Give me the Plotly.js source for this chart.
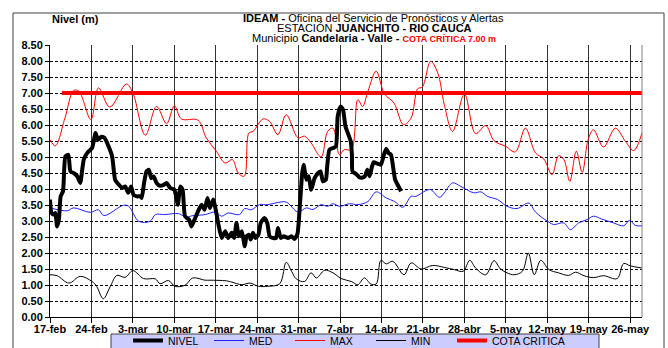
<!DOCTYPE html>
<html><head><meta charset="utf-8">
<script src="https://cdn.plot.ly/plotly-3.0.1.min.js"></script>
<style>html,body{margin:0;padding:0;background:#fff;}#chart{width:668px;height:348px;}</style>
</head><body><div id="chart"></div>
<script>
// x = days since 17-feb
const tickDays = [0,7,14,21,28,35,42,49,56,63,70,77,84,91,98];
const tickLabels = ["17-feb","24-feb","3-mar","10-mar","17-mar","24-mar","31-mar","7-abr","14-abr","21-abr","28-abr","5-may","12-may","19-may","26-may"];

const nivelDay = [0,0.25,0.65,0.9,1.2,1.5,1.8,2.2,2.6,3.1,3.45,4,4.6,5.1,5.7,6.3,7.1,7.7,8.1,8.7,9.2,9.9,10.5,11,11.6,12.2,12.7,13.2,13.7,14.1,14.7,15.3,15.5,15.9,16.3,16.7,17.1,17.5,18,18.6,19.2,19.7,20.3,21,21.6,22,22.4,22.8,23.5,23.9,24.4,25,25.6,26.1,26.6,27,27.6,28,28.4,29,29.6,30.1,30.7,31.1,31.5,31.9,32.4,32.9,33.2,33.6,33.9,34.3,34.7,35.2,35.6,36.2,36.7,37.1,37.7,38.2,38.5,39,39.5,40.2,40.8,41.3,41.8,42.2,42.6,42.85,43.3,43.7,44.1,44.7,45.3,45.7,46.1,46.6,46.8,47.2,47.8,48.3,48.6,49.1,49.5,49.9,50.3,50.8,51.0,51.1,51.7,52.3,52.8,53.2,53.6,54,54.4,54.7,55.2,55.9,56.4,56.8,57.2,57.6,57.9,58.3,58.7,59.3];
const nivel = [3.67,3.25,3.2,3.25,2.83,3.04,3.77,3.93,5.02,5.07,4.55,4.5,4.4,4.19,4.92,5.13,5.28,5.75,5.54,5.63,5.6,5.33,5.02,4.29,4.14,4.03,4.08,3.88,4.08,3.82,3.77,3.77,3.72,4.2,4.55,4.6,4.34,4.39,4.19,4.1,4.13,4.19,4.03,3.98,3.51,4.08,3.98,3.15,3.04,2.83,3.04,3.3,3.51,3.35,3.72,3.41,3.67,3.35,2.94,2.47,2.68,2.47,2.63,2.47,2.94,2.52,2.68,2.21,2.52,2.57,2.42,2.63,2.47,2.57,2.94,3.09,2.94,2.52,2.47,2.47,2.78,2.47,2.52,2.47,2.52,2.44,2.6,3.46,4.5,4.76,4.29,4.4,3.98,4.34,4.5,4.55,4.24,4.29,4.66,5.23,5.28,5.33,6.27,6.58,6.48,5.96,5.75,5.49,5.07,4.55,4.47,4.36,4.36,4.4,4.6,4.4,4.71,4.84,4.8,4.76,5.07,5.26,5.12,5.07,4.76,4.29,4.14,3.93];

const medDay = [0,2.9,4,6.8,8.2,9.1,12.4,13.3,15,16.9,17.8,19.4,21.7,23.1,23.9,26.2,27.9,29,30.1,32,32.9,34,35.4,36.8,38.5,39.9,41.9,43.3,44.4,45.8,46.9,47.8,48.9,50.6,52,53.7,55.1,56.8,58.2,59.6,61,61.8,63.5,64.3,65.8,66.6,68,69.4,71.6,72.8,73.9,75.6,77.2,78.9,80.9,82,84.3,85.1,86.8,87.9,89.3,90.7,91.8,93.2,95.2,96.9,97.9,98.9,100];
const med = [3.41,3.32,3.41,3.27,3.35,3.17,3.49,3.46,2.99,2.99,3.2,3.2,3.23,3.11,3.16,3.2,3.28,3.15,3.25,3.2,3.39,3.35,3.51,3.51,3.58,3.59,3.28,3.41,3.36,3.51,3.46,3.54,3.46,3.54,3.51,3.61,3.91,3.72,3.61,3.43,3.77,3.77,3.95,3.98,3.74,3.88,4.19,4.08,3.88,3.91,3.77,3.67,3.46,3.39,3.56,3.28,2.96,2.89,2.94,2.73,2.94,3.04,3.15,3.06,2.94,2.85,3.02,2.86,2.85];

const maxDay = [0,0.9,2.5,4,4.9,6.9,8.2,10.1,12.9,14,16.1,18,19.7,21,22.2,25,26.4,28.1,29.6,30.8,31.8,32.8,33.6,34.3,36,37.1,38.5,39.9,41.9,43,44.1,45.8,46.9,47.8,48.9,49.7,50.9,52,52.8,53.7,55.1,56.5,58.1,59.7,61,62.1,62.9,64.3,65.5,66.6,68,70,71.9,73.6,75,77,78.6,80.3,82,83.4,84.8,85.9,86.8,87.8,88.9,89.9,90.9,91.8,93.5,95.5,97.2,98.6,100];
const max = [5.54,5.35,6.2,7.08,7.05,6.17,7.16,6.56,7.28,7.0,5.68,6.58,6.04,6.6,6.19,6.15,5.6,5.18,4.81,4.92,4.5,4.4,5.75,5.8,6.19,6.11,5.7,6.32,5.6,5.65,5.44,5.0,5.8,5.9,5.07,5.23,5.23,6.79,6.58,7.05,7.68,6.97,6.69,6.01,6.22,7.13,7.19,7.99,7.63,6.64,5.8,6.97,5.73,5.98,5.51,5.33,5.16,5.9,5.13,4.94,4.45,5.04,4.92,4.24,5.18,4.52,5.54,5.85,5.31,5.9,5.49,5.2,5.75];

const minDay = [0,1.2,3.2,5.1,7.1,7.9,9,10.2,11.3,12.7,14,15.8,17.8,18.6,20,21.1,22.8,24.1,26.2,27,29.8,30.7,32.4,33.8,35.2,36.8,38.8,39.9,40.8,41.6,43,44.1,45,46.4,47.8,49.2,50.9,52,53.1,54.2,55.1,55.9,56.8,57.9,59.8,61,62.7,64.6,66.6,68.3,69.8,70.9,71.9,73.6,75,76.1,77.2,78.4,79.8,80.8,81.8,82.9,84.3,85.9,87.6,88.8,90.2,91.8,93.5,95.8,96.9,98,100];
const min = [1.32,1.29,1.06,1.27,1.11,0.95,0.57,0.96,1.3,1.24,1.45,1.2,1.19,1.04,1.14,0.96,0.99,1.22,1.15,1.15,1.13,1.09,1.01,1.06,0.96,0.96,1.04,1.71,1.43,1.19,1.11,1.38,1.22,1.46,1.38,1.2,1.11,1.01,1.22,1.03,1.03,1.77,1.66,1.74,1.32,1.69,1.5,1.61,1.55,1.48,1.43,1.77,1.53,1.32,1.76,1.5,1.38,1.32,1.43,2.0,1.32,1.77,1.48,1.38,1.3,1.4,1.29,1.23,1.29,1.2,1.67,1.6,1.53];

const cotaDay = [2, 100];
const cota = [7.0, 7.0];

// layout helpers (pixel -> paper)
const ML=50, MR=26, MT=45, MB=31, W=668, H=348;
const PW=W-ML-MR, PH=H-MT-MB;
const px = x => (x-ML)/PW;
const py = y => (H-MB-y)/PH;
const FONT = "Liberation Sans, Arial, sans-serif";

const traces = [
  {x:minDay, y:min, name:"MIN", mode:"lines", line:{color:"#000000", width:1, shape:"spline"}, legendrank:4},
  {x:medDay, y:med, name:"MED", mode:"lines", line:{color:"#1f1fff", width:1, shape:"spline"}, legendrank:2},
  {x:maxDay, y:max, name:"MAX", mode:"lines", line:{color:"#ff0000", width:1, shape:"spline"}, legendrank:3},
  {x:cotaDay, y:cota, name:"COTA CRITICA", mode:"lines", line:{color:"#ff0000", width:4}, legendrank:5, legendwidth:100},
  {x:nivelDay, y:nivel, name:"NIVEL", mode:"lines", line:{color:"#000000", width:4, shape:"spline", smoothing:0.5}, legendrank:1}
];

const layout = {
  width:W, height:H,
  margin:{l:ML, r:MR, t:MT, b:MB, pad:0, autoexpand:false},
  paper_bgcolor:"#ffffff", plot_bgcolor:"#ffffff",
  font:{family:FONT, color:"#000"},
  showlegend:true,
  legend:{orientation:"h", x:px(128), y:py(326), xanchor:"left", yanchor:"top",
    bgcolor:"rgba(0,0,0,0)", borderwidth:0, font:{family:FONT, size:10.5, color:"#000"},
    entrywidth:36, entrywidthmode:"pixels", itemwidth:30, traceorder:"normal"},
  xaxis:{range:[0,100], tickvals:tickDays, ticktext:tickLabels, ticks:"outside", ticklen:5, tickcolor:"#000",
    ticklabelstandoff:-3,
    showline:true, linecolor:"#000", linewidth:1, showgrid:true, gridcolor:"#333", gridwidth:1, zeroline:false,
    tickfont:{family:FONT, size:11, color:"#000", weight:"bold"}, fixedrange:true},
  yaxis:{range:[0,8.5], dtick:0.5, tick0:0, tickformat:".2f", ticks:"outside", ticklen:4, tickcolor:"#000",
    showline:true, linecolor:"#000", linewidth:1, showgrid:true, gridcolor:"#000", gridwidth:1, griddash:"3px,2px", zeroline:false,
    tickfont:{family:FONT, size:11, color:"#000", weight:"bold"}, fixedrange:true},
  shapes:[
    {type:"rect", xref:"paper", yref:"paper", x0:px(13), x1:px(664), y0:py(370), y1:py(13), line:{color:"#404040", width:1}, fillcolor:"rgba(0,0,0,0)", layer:"below"},
    {type:"rect", xref:"paper", yref:"paper", x0:px(111), x1:px(599), y0:py(370), y1:py(334), line:{color:"#404040", width:1}, fillcolor:"#ccccff", layer:"below"},
    {type:"line", xref:"paper", yref:"paper", x0:1, x1:1, y0:0, y1:1, line:{color:"#808080", width:1}}
  ],
  annotations:[
    {xref:"paper", yref:"paper", x:px(373), y:py(18), xanchor:"center", yanchor:"middle", showarrow:false,
     text:"<b>IDEAM - </b>Oficina del Servicio de Pronósticos y Alertas", font:{family:FONT, size:11, color:"#000"}},
    {xref:"paper", yref:"paper", x:px(374), y:py(28), xanchor:"center", yanchor:"middle", showarrow:false,
     text:"ESTACIÓN <b>JUANCHITO - RIO CAUCA</b>", font:{family:FONT, size:11, color:"#000"}},
    {xref:"paper", yref:"paper", x:px(374), y:py(38), xanchor:"center", yanchor:"middle", showarrow:false,
     text:"Municipio <b>Candelaria - Valle - </b><b><span style='color:#ff0000;font-size:9px'>COTA CRÍTICA 7.00 m</span></b>", font:{family:FONT, size:11, color:"#000"}},
    {xref:"paper", yref:"paper", x:px(75), y:py(19), xanchor:"center", yanchor:"middle", showarrow:false,
     text:"<b>Nivel (m)</b>", font:{family:FONT, size:11, color:"#000"}}
  ]
};

Plotly.newPlot("chart", traces, layout, {staticPlot:true, displayModeBar:false});
</script></body></html>
